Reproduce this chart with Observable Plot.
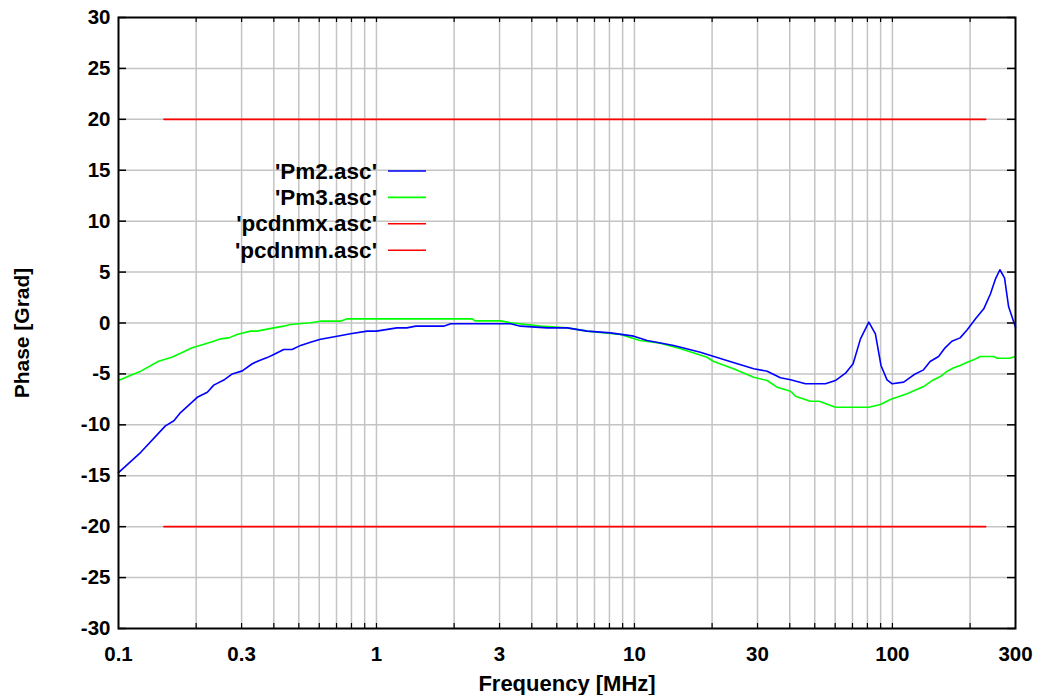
<!DOCTYPE html>
<html>
<head>
<meta charset="utf-8">
<script src="https://cdn.jsdelivr.net/npm/d3@7"></script>
<script src="https://cdn.jsdelivr.net/npm/@observablehq/plot@0.6"></script>
<style>
  html, body { margin: 0; padding: 0; background: #fff; }
  #wrap { position: relative; width: 1037px; height: 695px; }
  #legend { position: absolute; left: 0; top: 0; }
</style>
</head>
<body>
<div id="wrap"></div>
<script>
// ---- data ----
const pm2Freq = [0.1,0.122,0.152,0.164,0.174,0.202,0.221,0.234,0.256,0.276,0.302,0.33,0.35,0.377,0.40,0.437,0.471,0.508,0.555,0.607,0.704,0.793,0.92,1.0,1.2,1.31,1.42,1.82,1.94,3.31,3.62,4.59,5.49,6.56,8.07,9.94,11.2,14.2,18.0,22.8,29.0,32.7,36.8,40.3,46.0,55.0,60.1,65.8,70.4,75.2,81.0,85.9,90.3,95.3,99.8,110.6,121,132,140,151,160,170,183,195,210,226,240,251,261,272,282,300];
const pm2Phase = [-14.7,-12.7,-10.1,-9.6,-8.8,-7.3,-6.8,-6.1,-5.6,-5.0,-4.7,-4.0,-3.7,-3.4,-3.1,-2.6,-2.6,-2.2,-1.9,-1.6,-1.3,-1.06,-0.8,-0.8,-0.48,-0.48,-0.31,-0.31,-0.08,-0.08,-0.31,-0.48,-0.48,-0.8,-0.97,-1.29,-1.72,-2.21,-2.87,-3.68,-4.5,-4.73,-5.38,-5.58,-5.97,-5.97,-5.65,-4.93,-4.01,-1.56,0.08,-1.06,-4.17,-5.58,-5.97,-5.81,-5.09,-4.6,-3.78,-3.29,-2.44,-1.79,-1.46,-0.67,0.41,1.39,2.87,4.34,5.23,4.44,1.62,-0.41];

const pm3Freq = [0.1,0.111,0.122,0.143,0.161,0.174,0.193,0.221,0.248,0.268,0.288,0.325,0.344,0.40,0.437,0.464,0.555,0.607,0.725,0.77,2.35,2.41,3.03,3.31,4.33,5.49,6.56,8.83,10.5,12.6,15.1,19.1,20.3,24.2,29.0,32.7,35.7,40.3,42.1,48.0,52,60.1,81.0,89.8,98.2,114,132,142.6,153.6,163,173,183,195,206.6,219,247,255,285,300];
const pm3Phase = [-5.65,-5.16,-4.73,-3.75,-3.36,-2.97,-2.44,-1.98,-1.56,-1.46,-1.13,-0.8,-0.8,-0.48,-0.31,-0.15,0.02,0.18,0.18,0.41,0.41,0.21,0.21,0.02,-0.31,-0.48,-0.8,-1.13,-1.72,-1.98,-2.53,-3.36,-3.78,-4.5,-5.32,-5.65,-6.3,-6.7,-7.19,-7.68,-7.68,-8.27,-8.27,-8.0,-7.51,-6.95,-6.24,-5.65,-5.26,-4.73,-4.4,-4.17,-3.85,-3.62,-3.29,-3.29,-3.46,-3.46,-3.29];

const limitFreq = [0.15, 230];
const pcdnmx = [20, 20];
const pcdnmn = [-20, -20];

const xTickLabels = [0.1, 0.3, 1, 3, 10, 30, 100, 300];
const xGrid = [0.2,0.3,0.4,0.5,0.6,0.7,0.8,0.9,1,2,3,4,5,6,7,8,9,10,20,30,40,50,60,70,80,90,100,200];
const yTicks = [-30,-25,-20,-15,-10,-5,0,5,10,15,20,25,30];
const yGrid = [-25,-20,-15,-10,-5,0,5,10,15,20,25];

const xLabel = "Frequency [MHz]";
const yLabel = "Phase [Grad]";
const seriesNames = ["'Pm2.asc'", "'Pm3.asc'", "'pcdnmx.asc'", "'pcdnmn.asc'"];
const seriesColors = ["#0000ff", "#00ff00", "#ff0000", "#ff0000"];

// ---- build tables ----
const pm2 = pm2Freq.map((f, i) => ({f, v: pm2Phase[i]}));
const pm3 = pm3Freq.map((f, i) => ({f, v: pm3Phase[i]}));
const mx = limitFreq.map((f, i) => ({f, v: pcdnmx[i]}));
const mn = limitFreq.map((f, i) => ({f, v: pcdnmn[i]}));

const W = 1037, H = 695;
const mL = 118, mR = 22, mT = 17, mB = 67;
const innerW = W - mL - mR, innerH = H - mT - mB;

const chart = Plot.plot({
  width: W,
  height: H,
  marginLeft: mL,
  marginRight: mR,
  marginTop: mT,
  marginBottom: mB,
  style: {fontFamily: "Arial, 'Liberation Sans', sans-serif", fontSize: "20.5px", fontWeight: "bold", color: "#000", background: "#fff"},
  x: {type: "log", domain: [0.1, 300]},
  y: {domain: [-30, 30]},
  marks: [
    Plot.ruleX(xGrid, {x: d => d, stroke: "#c4c4c4", strokeWidth: 1.5}),
    Plot.ruleY(yGrid, {y: d => d, stroke: "#c4c4c4", strokeWidth: 1.5}),
    // inward tick marks
    Plot.tickY(yTicks, {y: d => d, insetRight: innerW - 8, stroke: "#000", strokeWidth: 1.5}),
    Plot.tickY(yTicks, {y: d => d, insetLeft: innerW - 8, stroke: "#000", strokeWidth: 1.5}),
    Plot.tickX(xGrid, {x: d => d, insetTop: innerH - 5, stroke: "#000", strokeWidth: 1.2}),
    Plot.tickX(xGrid, {x: d => d, insetBottom: innerH - 5, stroke: "#000", strokeWidth: 1.2}),
    Plot.line(mx, {x: "f", y: "v", stroke: seriesColors[2], strokeWidth: 1.6}),
    Plot.line(mn, {x: "f", y: "v", stroke: seriesColors[3], strokeWidth: 1.6}),
    Plot.line(pm3, {x: "f", y: "v", stroke: seriesColors[1], strokeWidth: 1.6}),
    Plot.line(pm2, {x: "f", y: "v", stroke: seriesColors[0], strokeWidth: 1.6}),
    Plot.frame({stroke: "#000", strokeWidth: 2}),
    Plot.axisX({ticks: xTickLabels, tickFormat: d => String(d), tickSize: 0, tickPadding: 18, label: null, fontWeight: "bold"}),
    Plot.axisY({ticks: yTicks, tickFormat: d => String(d), tickSize: 0, tickPadding: 8, label: null, fontWeight: "bold"}),
    Plot.text([xLabel], {text: d => d, frameAnchor: "bottom", textAnchor: "middle", dy: 55, lineAnchor: "middle", fontSize: 22, fontWeight: "bold", fill: "#000"}),
    Plot.text([yLabel], {text: d => d, frameAnchor: "left", textAnchor: "middle", rotate: -90, dx: -96, dy: 10, lineAnchor: "middle", fontSize: 21, fontWeight: "bold", fill: "#000"})
  ]
});

const wrap = document.getElementById("wrap");
wrap.appendChild(chart);

// ---- legend overlay ----
const leg = d3.select(wrap).append("svg")
  .attr("id", "legend")
  .attr("width", W).attr("height", H)
  .style("pointer-events", "none")
  .style("font-family", "Arial, 'Liberation Sans', sans-serif")
  .style("font-size", "22.5px")
  .style("font-weight", "bold");
const rowY = i => 171 + i * 26.4;
seriesNames.forEach((name, i) => {
  leg.append("text")
    .attr("x", 377).attr("y", rowY(i))
    .attr("text-anchor", "end")
    .attr("dominant-baseline", "central")
    .attr("fill", "#000")
    .text(name);
  leg.append("line")
    .attr("x1", 388).attr("x2", 426)
    .attr("y1", rowY(i)).attr("y2", rowY(i))
    .attr("stroke", seriesColors[i]).attr("stroke-width", 1.6);
});
</script>
</body>
</html>
